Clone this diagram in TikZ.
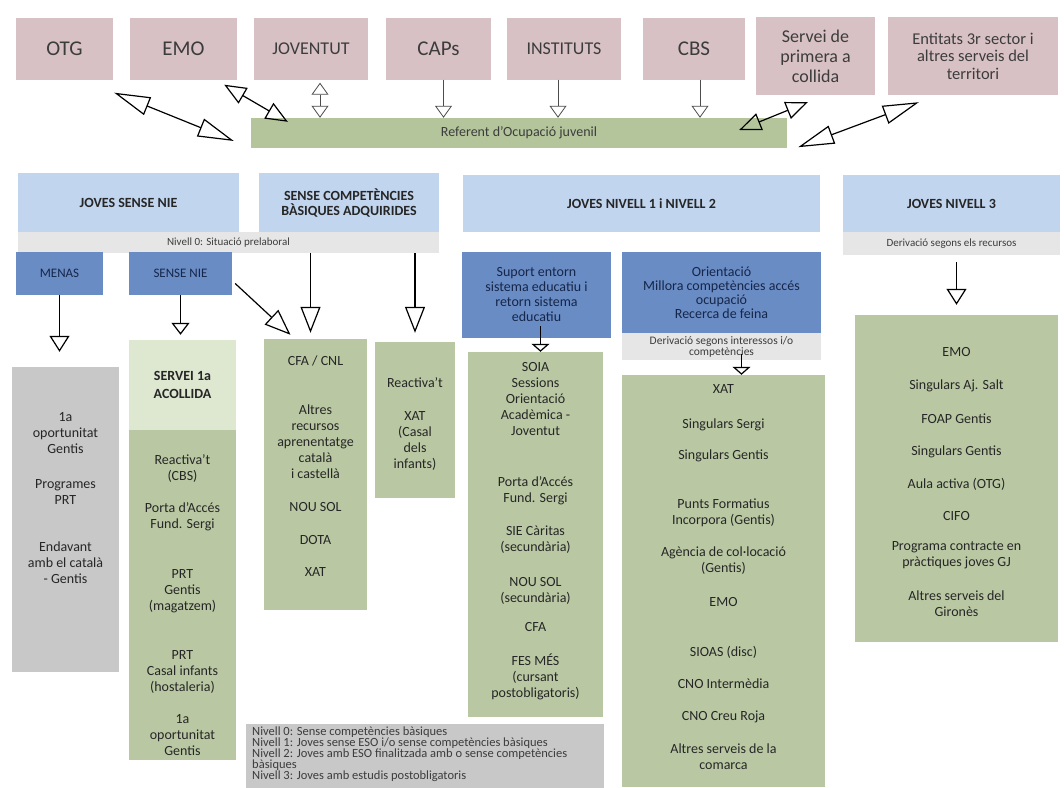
\documentclass[tikz,border=0pt]{standalone}
\usepackage{fontspec}
\setmainfont{Carlito}
\usetikzlibrary{arrows.meta}
\definecolor{rosac}{HTML}{D8C1C4}
\definecolor{verdref}{HTML}{B4C59C}
\definecolor{verd}{HTML}{B9C8A3}
\definecolor{verdclar}{HTML}{DEE7D0}
\definecolor{blauclar}{HTML}{C2D5EE}
\definecolor{blau}{HTML}{6A8CC4}
\definecolor{grisclar}{HTML}{E6E6E6}
\definecolor{grisbox}{HTML}{C8C8C8}
\definecolor{textfosc}{HTML}{262626}
\definecolor{textgris}{HTML}{3C3C3C}
\definecolor{textblau}{HTML}{15264A}
\newcommand{\mida}[2]{\fontsize{#1}{#2}\selectfont}
\begin{document}
\begin{tikzpicture}[x=1pt,y=-1pt,
	rosa/.style={fill=rosac,inner sep=0pt,align=center,text=textgris,minimum height=62pt},
	capsal/.style={fill=blauclar,inner sep=0pt,align=center,text=textfosc,font=\bfseries\mida{14}{15},minimum height=59pt},
	franja/.style={fill=grisclar,inner sep=0pt,align=center,text=textgris,font=\mida{11}{11}},
	blava/.style={fill=blau,inner sep=0pt,align=center,text=textblau},
	caixa/.style={inner sep=0pt},
	llista/.style={inner sep=0pt,anchor=north,align=center,text=textfosc,font=\mida{14}{16}},
	doble/.style={{Triangle[open,length=36pt,width=19pt]}-{Triangle[open,length=36pt,width=19pt]},line width=1.2pt},
	curta/.style={{Triangle[open,length=22pt,width=18pt]}-{Triangle[open,length=22pt,width=18pt]},line width=1.2pt},
	petita/.style={-{Triangle[open,length=12pt,width=17pt]},line width=.8pt,draw=black!70},
	fletxa/.style={-{Triangle[open,length=16pt,width=20pt]},line width=1.2pt},
	llarga/.style={-{Triangle[open,length=26pt,width=20pt]},line width=1.2pt}]
	\fill[white] (0,0) rectangle (1064,787);
	\useasboundingbox (0,0) rectangle (1064,787);
	%fila de dalt
	\foreach \nom/\x/\w/\f/\t in {otg/64.5/97/21/OTG, emo/183.5/107/21/EMO, jov/311/114/18/JOVENTUT, caps/438.5/105/21/CAPs, inst/564/114/18/INSTITUTS, cbs/694/102/21/CBS}
	\node[rosa,minimum width=\w pt,font=\mida{\f}{\f}] (\nom) at (\x,48.5) {\t};
	\node[rosa,minimum width=119pt,minimum height=78pt,font=\mida{18}{20}] (servei) at (815.5,56) {Servei de\\primera a\\collida};
	\node[rosa,minimum width=170pt,minimum height=78pt,font=\mida{16.5}{17.5}] (entitats) at (973,56) {Entitats 3r sector i\\altres serveis del\\territori};
	\node[fill=verdref,inner sep=0pt,minimum width=536pt,minimum height=30pt,font=\mida{14}{14},text=textgris] (ref) at (519,133) {Referent d'Ocupació juvenil};
	%capçaleres
	\node[capsal,minimum width=221pt] (hnie) at (128.5,202.5) {JOVES SENSE NIE};
	\node[capsal,minimum width=180pt] (hcomp) at (349,202.5) {SENSE COMPETÈNCIES\\BÀSIQUES ADQUIRIDES};
	\node[capsal,minimum width=357pt,minimum height=57pt] (hn12) at (641.5,203.5) {JOVES NIVELL 1 i NIVELL 2};
	\node[capsal,minimum width=217pt,minimum height=57pt] (hn3) at (951.5,203.5) {JOVES NIVELL 3};
	\node[franja,minimum width=421pt,minimum height=21pt] (niv0) at (228.5,242.5) {Nivell 0: Situació prelaboral};
	\node[franja,minimum width=217pt,minimum height=23pt] (der3) at (951.5,243.5) {Derivació segons els recursos};
	\node[blava,minimum width=87pt,minimum height=43pt,font=\mida{13}{13}] (menas) at (59.5,273.5) {MENAS};
	\node[blava,minimum width=103pt,minimum height=43pt,font=\mida{13}{13}] (sensenie) at (180.5,273.5) {SENSE NIE};
	\node[blava,minimum width=149pt,minimum height=86pt,font=\mida{14}{15}] (suport) at (536.5,295) {Suport entorn\\sistema educatiu i\\retorn sistema\\educatiu};
	\node[blava,minimum width=199pt,minimum height=81pt,font=\mida{14}{14}] (orient) at (721.5,292.5) {Orientació\\Millora competències accés\\ocupació\\Recerca de feina};
	\node[franja,minimum width=199pt,minimum height=27pt,font=\mida{11.5}{11}] (der12) at (721.5,346.5) {Derivació segons interessos i/o\\competències};
	%caixes de recursos
	\node[caixa,fill=grisbox,minimum width=107pt,minimum height=305pt] (oport) at (65.5,519.5) {};
	\node[caixa,fill=verdclar,minimum width=107pt,minimum height=90pt,align=center,text=textfosc,font=\bfseries\mida{14}{18}] (acoll) at (182.5,385) {SERVEI 1a\\ACOLLIDA};
	\node[caixa,fill=verd,minimum width=107pt,minimum height=330pt] (s1a) at (182.5,595) {};
	\node[caixa,fill=verd,minimum width=103pt,minimum height=271pt] (cfa) at (315.5,474.5) {};
	\node[caixa,fill=verd,minimum width=80pt,minimum height=156pt] (react) at (415,420) {};
	\node[caixa,fill=verd,minimum width=135pt,minimum height=365pt] (soia) at (535.5,534.5) {};
	\node[caixa,fill=verd,minimum width=203pt,minimum height=412pt] (xat) at (723.5,581) {};
	\node[caixa,fill=verd,minimum width=203pt,minimum height=327pt] (emo3) at (956.5,478.5) {};
	\node[caixa,fill=grisbox,minimum width=358pt,minimum height=80pt] (llegenda) at (425,764) {};
	\node[llista] (oportT) at (65.5,412.5) {1a\\oportunitat\\Gentis\\[19pt]Programes\\PRT\\[31pt]Endavant\\amb el català\\- Gentis};
	\node[llista] (s1aT) at (182.5,454.5) {Reactiva't\\(CBS)\\[16pt]Porta d'Accés\\Fund. Sergi\\[34pt]PRT\\Gentis\\(magatzem)\\[33pt]PRT\\Casal infants\\(hostaleria)\\[16pt]1a\\oportunitat\\Gentis};
	\node[llista] (cfaT) at (315.5,355.5) {CFA / CNL\\[33pt]Altres\\recursos\\aprenentatge\\català\\i castellà\\[17pt]NOU SOL\\[17pt]DOTA\\[16pt]XAT};
	\node[llista] (reactT) at (415,377.5) {Reactiva't\\[17pt]XAT\\(Casal\\dels\\infants)};
	\node[llista] (soiaT) at (535.5,362.5) {SOIA\\Sessions\\Orientació\\Acadèmica -\\Joventut\\[35pt]Porta d'Accés\\Fund. Sergi\\[17pt]SIE Càritas\\(secundària)\\[19pt]NOU SOL\\(secundària)\\[13pt]CFA\\[18pt]FES MÉS\\(cursant\\postobligatoris)};
	\node[llista] (xatT) at (723.5,384.5) {XAT\\[19pt]Singulars Sergi\\[15pt]Singulars Gentis\\[33pt]Punts Formatius\\Incorpora (Gentis)\\[16pt]Agència de col·locació\\(Gentis)\\[18pt]EMO\\[34pt]SIOAS (disc)\\[16pt]CNO Intermèdia\\[16pt]CNO Creu Roja\\[17pt]Altres serveis de la\\comarca};
	\node[llista] (emo3T) at (956.5,347.5) {EMO\\[17pt]Singulars Aj. Salt\\[18pt]FOAP Gentis\\[16pt]Singulars Gentis\\[17pt]Aula activa (OTG)\\[16pt]CIFO\\[14pt]Programa contracte en\\pràctiques joves GJ\\[18pt]Altres serveis del\\Gironès};
	\node[anchor=north west,inner sep=0pt,align=left,font=\mida{12.5}{11},text=textgris] (llegendaT) at (252,727) {Nivell 0: Sense competències bàsiques\\Nivell 1: Joves sense ESO i/o sense competències bàsiques\\Nivell 2: Joves amb ESO finalitzada amb o sense competències\\bàsiques\\Nivell 3: Joves amb estudis postobligatoris};
	%fletxes
	\draw[doble] ([shift={(1,13)}]otg.south east) -- ([shift={(-17,8)}]ref.west);
	\draw[curta] ([shift={(-13,5)}]emo.south east) -- ([shift={(37,4)}]ref.north west);
	\draw[petita,{Triangle[open,length=12pt,width=17pt]}-{Triangle[open,length=12pt,width=17pt]}] ([xshift=9pt,yshift=-3pt]jov.south) -- ([xshift=9pt]jov.south |- ref.north);
	\foreach \nom/\dx in {caps/5,inst/-6,cbs/6}
	\draw[petita] ([xshift=\dx pt]\nom.south) -- ([xshift=\dx pt]\nom.south |- ref.north);
	\draw[curta] ([shift={(-48,-3)}]ref.east) -- ([shift={(52,7)}]servei.south west);
	\draw[doble] ([shift={(11,-1)}]ref.south east) -- ([shift={(31,7)}]entitats.south west);
	\draw[fletxa,shorten >=15pt] (menas.south) -- (menas.south |- oport.north);
	\draw[fletxa,-{Triangle[open,length=12pt,width=18pt]},shorten >=5pt] (sensenie.south) -- (sensenie.south |- acoll.north);
	\draw[llarga] ([shift={(3,10)}]sensenie.east) -- ([shift={(-25,-4)}]cfa.north);
	\draw[llarga,shorten >=6pt] ([xshift=-5pt]cfa.north |- niv0.south) -- ([xshift=-5pt]cfa.north);
	\draw[llarga,shorten >=9pt] (react.north |- niv0.south) -- (react.north);
	\draw[fletxa,-{Triangle[open,length=8pt,width=18pt]}] ([xshift=4pt,yshift=12pt]suport.south) -- ([xshift=4pt]suport.south |- soia.north);
	\draw[fletxa,-{Triangle[open,length=8pt,width=18pt]}] ([xshift=20pt,yshift=6pt]der12.south) -- ([xshift=20pt]der12.south |- xat.north);
	\draw[fletxa,shorten <=7pt,shorten >=10pt] ([xshift=5pt]der3.south) -- ([xshift=5pt]der3.south |- emo3.north);
\end{tikzpicture}
\end{document}
